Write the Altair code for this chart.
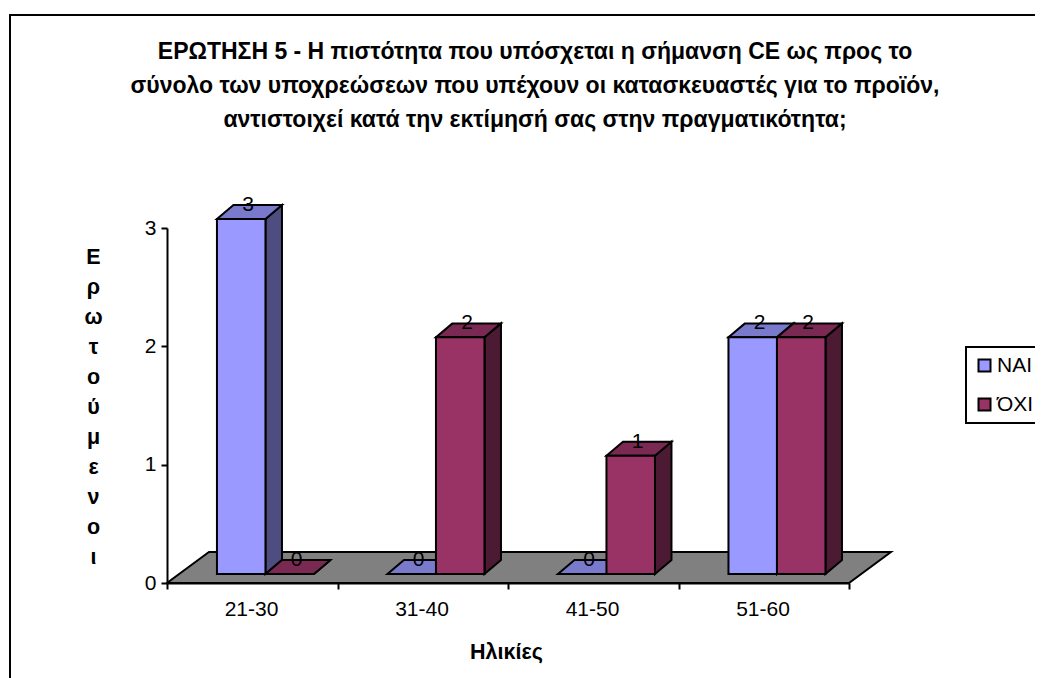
import json
import altair as alt
import pandas as pd

FONT = "Liberation Sans"
categories = ["21-30", "31-40", "41-50", "51-60"]
series_names = ["ΝΑΙ", "ΌΧΙ"]
yes_values = [3, 0, 0, 2]
no_values = [0, 2, 1, 2]
title_lines = [
    "ΕΡΩΤΗΣΗ 5 - Η πιστότητα που υπόσχεται η σήμανση CE ως προς το",
    "σύνολο των υποχρεώσεων που υπέχουν οι κατασκευαστές για το προϊόν,",
    "αντιστοιχεί κατά την εκτίμησή σας στην πραγματικότητα;",
]
y_title = list("Ερωτούμενοι")
x_title = "Ηλικίες"

front_colors = ["#9999FF", "#993366"]
top_colors = ["#7A7ACC", "#7A2952"]
side_colors = ["#4D4D80", "#4D1A33"]

# 3-D projection, in axis units
BAR_LEFT, BAR_W = 0.293, 0.2845
DEPTH_X, DEPTH_Y = 0.0968, 0.118
BASE = 0.076
FLOOR_X, FLOOR_Y = 0.246, 0.262

front, side, top = [], [], []
for s, (name, vals) in enumerate(zip(series_names, [yes_values, no_values])):
    for c, v in enumerate(vals):
        x0 = c + BAR_LEFT + s * BAR_W
        x1 = x0 + BAR_W
        y0, y1 = BASE, BASE + v
        bid = f"{s}-{c}"
        front.append(dict(series=name, x=x0, x2=x1, y=y0, y2=y1, value=v,
                          mid=(x0 + x1) / 2))
        side.append(dict(id=bid, fill=side_colors[s], x=x1, y=y0, y2=y1))
        side.append(dict(id=bid, fill=side_colors[s], x=x1 + DEPTH_X,
                         y=y0 + DEPTH_Y, y2=y1 + DEPTH_Y))
        top.append(dict(id=bid, fill=top_colors[s], x=x0, x2=x1, y=y1))
        top.append(dict(id=bid, fill=top_colors[s], x=x0 + DEPTH_X,
                        x2=x1 + DEPTH_X, y=y1 + DEPTH_Y))
floor = pd.DataFrame([dict(x=0, x2=len(categories), y=0),
                      dict(x=FLOOR_X, x2=len(categories) + FLOOR_X, y=FLOOR_Y)])
front, side, top = pd.DataFrame(front), pd.DataFrame(side), pd.DataFrame(top)

x_scale = alt.Scale(domain=[0, 4], nice=False, zero=False)
y_scale = alt.Scale(domain=[0, 3], nice=False)
x_axis = alt.Axis(values=[0, 1, 2, 3, 4], grid=False, title=x_title,
                  labelExpr=json.dumps(categories + [""]) + "[datum.value]",
                  labelOffset=84, labelFont=FONT, labelFontSize=21,
                  labelColor="black", labelPadding=9, labelBound=False,
                  labelFlush=False, labelOverlap=False, tickSize=6,
                  tickColor="black", tickWidth=2, domainColor="black",
                  domainWidth=2, titleFont=FONT, titleFontSize=21.5,
                  titleFontWeight="bold", titleColor="black",
                  titleX=339, titleY=69, titleBaseline="middle")
y_axis = alt.Axis(values=[0, 1, 2, 3], grid=False, format="d", title=y_title,
                  labelFont=FONT, labelFontSize=21, labelColor="black",
                  labelPadding=5, tickSize=6, tickColor="black", tickWidth=2,
                  domainColor="black", domainWidth=2, titleFont=FONT,
                  titleFontSize=21.5, titleFontWeight="bold", titleColor="black",
                  titleAngle=0, titleX=-74, titleY=29, titleAlign="center",
                  titleBaseline="middle", titleLineHeight=30)
X = alt.X("x:Q", scale=x_scale, axis=x_axis)
Y = alt.Y("y:Q", stack=None, scale=y_scale, axis=y_axis)

frame = alt.Chart(pd.DataFrame({"f": [0]})).mark_rect(
    filled=False, stroke="black", strokeWidth=2
).encode(x=alt.value(-157), x2=alt.value(1200), y=alt.value(-213), y2=alt.value(900))

floor_l = alt.Chart(floor).mark_area(
    orient="horizontal", color="#808080", stroke="black", strokeWidth=2
).encode(x=X, x2="x2:Q", y=Y)

side_l = alt.Chart(side).mark_area(
    orient="vertical", stroke="black", strokeWidth=2
).encode(x=X, y=Y, y2="y2:Q", detail="id:N", fill=alt.Fill("fill:N", scale=None))

top_l = alt.Chart(top).mark_area(
    orient="horizontal", stroke="black", strokeWidth=2
).encode(x=X, x2="x2:Q", y=Y, detail="id:N", fill=alt.Fill("fill:N", scale=None))

front_l = alt.Chart(front).mark_rect(stroke="black", strokeWidth=2).encode(
    x=X, x2="x2:Q", y=Y, y2="y2:Q",
    color=alt.Color("series:N",
                    scale=alt.Scale(domain=series_names, range=front_colors),
                    legend=alt.Legend(title=None, orient="none", legendX=799, legendY=119,
                                      symbolType="square", symbolSize=144,
                                      symbolStrokeColor="black", symbolStrokeWidth=2,
                                      symbolOpacity=1, labelFont=FONT, labelFontSize=21,
                                      labelColor="black", labelOffset=2, rowPadding=17,
                                      strokeColor="black", fillColor="white", padding=8)),
)

label_l = alt.Chart(front).mark_text(
    dx=7, dy=-14, baseline="middle", align="center", font=FONT, fontSize=21, color="black"
).encode(x=alt.X("mid:Q", scale=x_scale, axis=x_axis),
         y=alt.Y("y2:Q", scale=y_scale, axis=y_axis), text="value:Q")

chart = alt.layer(frame, floor_l, side_l, top_l, front_l, label_l).properties(
    width=682, height=355,
    title=alt.TitleParams(text=title_lines, font=FONT, fontSize=23, fontWeight="bold",
                          color="black", anchor="middle", frame="group", lineHeight=34,
                          baseline="top", dx=27, dy=118, offset=0),
    padding={"left": 159, "top": 220, "right": 186, "bottom": 95},
    autosize=alt.AutoSizeParams(type="none"),
).configure_view(stroke=None).configure_legend(strokeWidth=2)

chart.save("out.html", embed_options={"renderer": "svg", "actions": False})
